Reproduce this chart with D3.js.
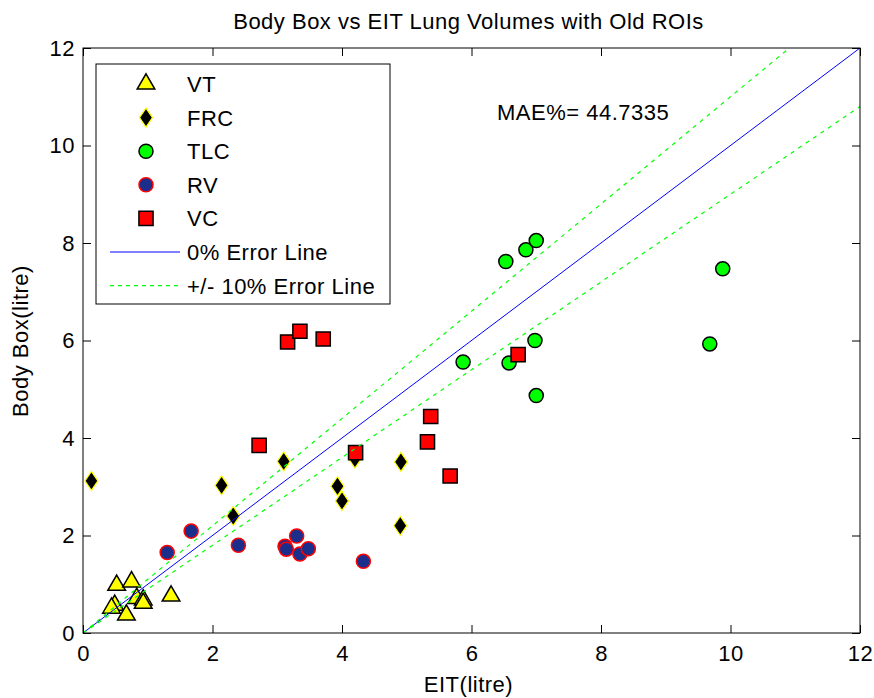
<!DOCTYPE html>
<html><head><meta charset="utf-8">
<script src="https://cdn.jsdelivr.net/npm/d3@7"></script>
<style>body{margin:0;background:#fff}svg text{font-family:"Liberation Sans",Arial,sans-serif;fill:#000;letter-spacing:0.5px}</style>
</head><body><svg id="c" width="874" height="698"></svg>
<script>
const vtX=[0.52,0.75,0.49,0.67,0.83,0.93,0.93,0.44,1.36];
const vtY=[0.98,1.05,0.57,0.37,0.71,0.68,0.61,0.51,0.76];
const frcX=[0.13,2.14,2.32,3.10,3.93,4.00,4.20,4.91,4.90];
const frcY=[3.12,3.03,2.40,3.52,3.01,2.71,3.58,3.51,2.20];
const tlcX=[6.53,6.84,7.00,9.88,5.87,6.58,6.98,7.00,9.68];
const tlcY=[7.62,7.86,8.05,7.47,5.56,5.54,6.00,4.87,5.93];
const rvX=[1.30,1.67,2.40,3.12,3.14,3.30,3.35,3.48,4.33];
const rvY=[1.65,2.09,1.80,1.78,1.72,1.99,1.62,1.73,1.47];
const vcX=[2.72,3.16,3.35,3.71,4.21,5.32,5.37,5.67,6.72];
const vcY=[3.85,5.97,6.19,6.03,3.70,3.92,4.44,3.22,5.71];
const ticks=[0,2,4,6,8,10,12];
const legendLabels=["VT","FRC","TLC","RV","VC","0% Error Line","+/- 10% Error Line"];
const titleText="Body Box vs EIT Lung Volumes with Old ROIs";
const maeText="MAE%= 44.7335";

const svg=d3.select("#c");
const L=83,R=860,T=48,B=633;
const x=d3.scaleLinear().domain([0,12]).range([L,R]);
const y=d3.scaleLinear().domain([0,12]).range([B,T]);
const FS=22;

const tri=d3.symbol().type(d3.symbolTriangle).size(135);
const sq=d3.symbol().type(d3.symbolSquare).size(200);
const circ=d3.symbol().type(d3.symbolCircle).size(155);
function diamondPath(){return "M0,-9.5L6.5,0L0,9.5L-6.5,0Z";}
const styles={
 VT:{path:()=>tri(),fill:"#ffff00",stroke:"#000",sw:1.5},
 FRC:{path:diamondPath,fill:"#000",stroke:"#ffff00",sw:1.2},
 TLC:{path:()=>circ(),fill:"#00ff00",stroke:"#000",sw:1.5},
 RV:{path:()=>circ(),fill:"#1c2e8c",stroke:"#ff0000",sw:1.5},
 VC:{path:()=>sq(),fill:"#ff0000",stroke:"#000",sw:1.5}
};
const series=[["VT",vtX,vtY],["FRC",frcX,frcY],["TLC",tlcX,tlcY],["RV",rvX,rvY],["VC",vcX,vcY]];

svg.append("defs").append("clipPath").attr("id","clip").append("rect")
 .attr("x",L).attr("y",T).attr("width",R-L).attr("height",B-T);

const plot=svg.append("g");
series.forEach(([name,xs,ys])=>{
 const s=styles[name];
 plot.selectAll(null).data(xs.map((v,i)=>[v,ys[i]])).enter().append("path")
  .attr("d",s.path).attr("transform",d=>`translate(${x(d[0])},${y(d[1])})`)
  .attr("fill",s.fill).attr("stroke",s.stroke).attr("stroke-width",s.sw);
});

const lineG=svg.append("g").attr("clip-path","url(#clip)");
const xs=[0,12];
const ln=d3.line().x(d=>x(d[0])).y(d=>y(d[1]));
lineG.append("path").attr("d",ln(xs.map(v=>[v,v]))).attr("stroke","#0000ff").attr("stroke-width",1).attr("fill","none");
[1.1,0.9].forEach(k=>{
 lineG.append("path").attr("d",ln(xs.map(v=>[v,v*k]))).attr("stroke","#00ff00").attr("stroke-width",1.2).attr("stroke-dasharray","4,5").attr("fill","none");
});

const ax=svg.append("g");
ax.append("g").attr("transform",`translate(0,${B})`).call(d3.axisBottom(x).tickValues(ticks).tickSize(-8).tickPadding(12).tickFormat(d3.format("d")));
ax.append("g").attr("transform",`translate(0,${T})`).call(d3.axisTop(x).tickValues(ticks).tickSize(-8).tickFormat(""));
ax.append("g").attr("transform",`translate(${L},0)`).call(d3.axisLeft(y).tickValues(ticks).tickSize(-8).tickPadding(8).tickFormat(d3.format("d")));
ax.append("g").attr("transform",`translate(${R},0)`).call(d3.axisRight(y).tickValues(ticks).tickSize(-8).tickFormat(""));
ax.selectAll(".domain").remove();
ax.selectAll(".tick line").attr("stroke","#000");
ax.selectAll(".tick text").attr("font-size",FS).attr("font-family","Liberation Sans, Arial");
svg.append("rect").attr("x",L).attr("y",T).attr("width",R-L).attr("height",B-T).attr("fill","none").attr("stroke","#000").attr("stroke-width",1);

svg.append("text").attr("x",(L+R)/2-3).attr("y",29).attr("text-anchor","middle").attr("font-size",FS).text(titleText);
svg.append("text").attr("x",(L+R)/2-3).attr("y",692).attr("text-anchor","middle").attr("font-size",FS).text("EIT(litre)");
svg.append("text").attr("transform","translate(28,341) rotate(-90)").attr("text-anchor","middle").attr("font-size",FS).text("Body Box(litre)");
svg.append("text").attr("x",497).attr("y",120).attr("font-size",FS).text(maeText);

const lg=svg.append("g");
lg.append("rect").attr("x",96).attr("y",64).attr("width",294).attr("height",240).attr("fill","#fff").attr("stroke","#000").attr("stroke-width",1);
const ly0=84,lstep=33.6;
legendLabels.forEach((lab,i)=>{
 const cy=ly0+i*lstep;
 if(i<5){
  const s=styles[series[i][0]];
  lg.append("path").attr("d",s.path).attr("transform",`translate(146,${cy})`).attr("fill",s.fill).attr("stroke",s.stroke).attr("stroke-width",s.sw);
 } else if(i===5){
  lg.append("line").attr("x1",110).attr("x2",180).attr("y1",cy).attr("y2",cy).attr("stroke","#0000ff");
 } else {
  lg.append("line").attr("x1",110).attr("x2",180).attr("y1",cy).attr("y2",cy).attr("stroke","#00ff00").attr("stroke-width",1.2).attr("stroke-dasharray","4,4");
 }
 lg.append("text").attr("x",187).attr("y",cy+8).attr("font-size",FS).text(lab);
});
</script></body></html>
